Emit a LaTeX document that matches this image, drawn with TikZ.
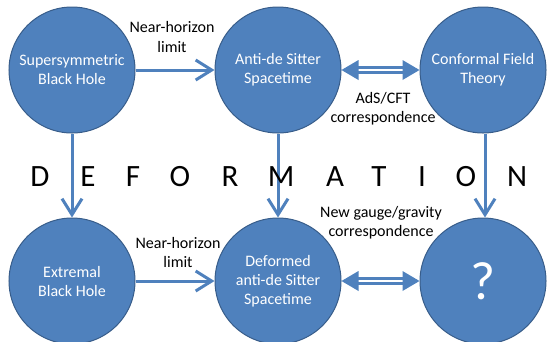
\documentclass[tikz,border=0pt]{standalone}
\usepackage{fontspec}
\setmainfont{Carlito}
\usetikzlibrary{arrows.meta,calc}
\definecolor{cfill}{HTML}{4F81BD}
\definecolor{cedge}{HTML}{385D8A}
\tikzset{
 bub/.style={circle, fill=cfill, draw=cedge, line width=1bp, minimum size=126bp, inner sep=0pt, text=white, align=center, font=\fontsize{16bp}{19bp}\selectfont},
 lab/.style={align=center, font=\fontsize{16bp}{19.5bp}\selectfont, inner sep=0pt},
 arr/.style={draw=cfill, line width=3bp, -{Straight Barb[length=16bp,width=20bp]}},
 dbl/.style={draw=cfill, double=white, double distance=2.8bp, line width=3bp},
 head/.style={fill=cfill},
 letter/.style={font=\fontsize{31bp}{31bp}\selectfont, inner sep=0pt, anchor=base}
}
\begin{document}
\begin{tikzpicture}[x=1bp,y=-1bp]
\useasboundingbox (0,0) rectangle (547,341);
\clip (0,0) rectangle (547,341);
\node[bub] (c1) at (72,70) {Supersymmetric\\Black Hole};
\node[bub] (c2) at (278,70) {Anti-de Sitter\\Spacetime};
\node[bub] (c3) at (483,70) {Conformal Field\\Theory};
\node[bub] (c4) at (72,281) {Extremal\\Black Hole};
\node[bub] (c5) at (278,281) {Deformed\\anti-de Sitter\\Spacetime};
\node[bub, font=\fontsize{54bp}{54bp}\selectfont] (c6) at (483,281) {?};
% horizontal arrows
\draw[arr] (c1) -- (c2);
\draw[arr] (c4) -- (c5);
% vertical arrows
\draw[arr] (c1) -- (c4);
\draw[arr] (c2) -- (c5);
\draw[arr] ([xshift=2bp]c3.south) -- ([xshift=2bp]c6.north);
% double arrows
\foreach \a/\b in {c2/c3,c5/c6}{
  \draw[dbl] ($(\a.east)+(16,0)$) -- ($(\b.west)+(-16,0)$);
  \fill[head] (\a.east) -- ++(17,-10) -- ++(0,20) -- cycle;
  \fill[head] (\b.west) -- ++(-17,-10) -- ++(0,20) -- cycle;
}
% labels
\node[lab] (l1) at (172,37) {Near-horizon\\limit};
\node[lab] (l2) at (383,108.5) {AdS/CFT\\correspondence};
\node[lab] (l3) at (381,222.5) {New gauge/gravity\\correspondence};
\node[lab] (l4) at (178,252.5) {Near-horizon\\limit};
% DEFORMATION
\foreach \l/\x [count=\i] in {D/40,E/88,F/133,O/180,R/230,M/281,A/335,T/379,I/422,O/466,N/517}
  \node[letter] (dl\i) at (\x,186) {\l};
\end{tikzpicture}
\end{document}
